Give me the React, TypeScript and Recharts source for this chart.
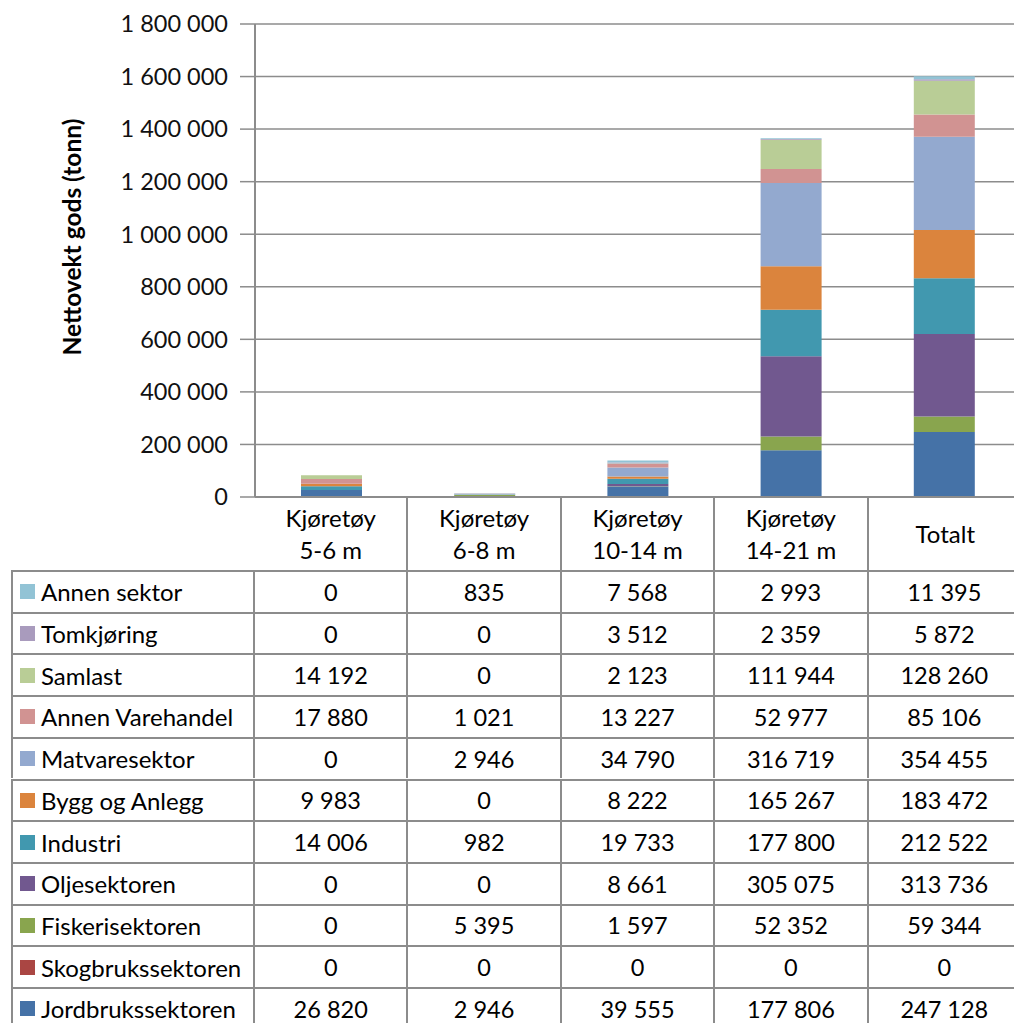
import { BarChart, Bar, XAxis, YAxis, CartesianGrid } from "recharts";

const categories = ["Kjøretøy\n5-6 m", "Kjøretøy\n6-8 m", "Kjøretøy\n10-14 m", "Kjøretøy\n14-21 m", "Totalt"];

// one array per sector, same order as categories
const jordbruk = [26820, 2946, 39555, 177806, 247128];
const skogbruk = [0, 0, 0, 0, 0];
const fiskeri = [0, 5395, 1597, 52352, 59344];
const olje = [0, 0, 8661, 305075, 313736];
const industri = [14006, 982, 19733, 177800, 212522];
const bygg = [9983, 0, 8222, 165267, 183472];
const matvare = [0, 2946, 34790, 316719, 354455];
const varehandel = [17880, 1021, 13227, 52977, 85106];
const samlast = [14192, 0, 2123, 111944, 128260];
const tomkjoring = [0, 0, 3512, 2359, 5872];
const annenSektor = [0, 835, 7568, 2993, 11395];

const yTicks = [0, 200000, 400000, 600000, 800000, 1000000, 1200000, 1400000, 1600000, 1800000];

// bottom of stack first
const series = [
  { key: "jordbruk", name: "Jordbrukssektoren", values: jordbruk, color: "#4572A7" },
  { key: "skogbruk", name: "Skogbrukssektoren", values: skogbruk, color: "#AA4643" },
  { key: "fiskeri", name: "Fiskerisektoren", values: fiskeri, color: "#89A54E" },
  { key: "olje", name: "Oljesektoren", values: olje, color: "#71588F" },
  { key: "industri", name: "Industri", values: industri, color: "#4198AF" },
  { key: "bygg", name: "Bygg og Anlegg", values: bygg, color: "#DB843D" },
  { key: "matvare", name: "Matvaresektor", values: matvare, color: "#93A9CF" },
  { key: "varehandel", name: "Annen Varehandel", values: varehandel, color: "#D19392" },
  { key: "samlast", name: "Samlast", values: samlast, color: "#B9CD96" },
  { key: "tomkjoring", name: "Tomkjøring", values: tomkjoring, color: "#A99BBD" },
  { key: "annen", name: "Annen sektor", values: annenSektor, color: "#92C3D5" },
];

const data = categories.map((name, i) => {
  const row: Record<string, string | number> = { name };
  series.forEach((s) => {
    row[s.key] = s.values[i];
  });
  return row;
});

const fmt = (v: number) => String(v).replace(/\B(?=(\d{3})+(?!\d))/g, " ");

const FONT = "Lato, 'Open Sans', sans-serif";
const LINE = "#8c8c8c";
const PLOT_LEFT = 255;
const PLOT_RIGHT = 1022;
const COL_W = (PLOT_RIGHT - PLOT_LEFT) / categories.length;
const TABLE_TOP = 570;
const ROW_H = 41.7;
const WORD_SIZE = 24;
const NUM_SIZE = 23.5;

export default function App() {
  const rows = [...series].reverse();

  return (
    <div
      style={{
        position: "absolute",
        left: 0,
        top: 0,
        width: 1014,
        height: 1023,
        overflow: "hidden",
        background: "#fff",
        fontFamily: FONT,
        color: "#000",
      }}
    >
      <div style={{ position: "absolute", left: 0, top: 0 }}>
        <BarChart
          width={PLOT_RIGHT}
          height={580}
          data={data}
          margin={{ top: 24, right: 1, left: 0, bottom: 10 }}
          barSize={61}
        >
          <CartesianGrid vertical={false} stroke={LINE} strokeWidth={1.5} />
          <XAxis dataKey="name" height={73} tick={false} tickLine={false} axisLine={{ stroke: LINE, strokeWidth: 2 }} />
          <YAxis
            width={PLOT_LEFT}
            domain={[0, 1800000]}
            ticks={yTicks}
            interval={0}
            tickFormatter={fmt}
            tickSize={15}
            tickMargin={12}
            tickLine={{ stroke: LINE, strokeWidth: 1.5 }}
            axisLine={{ stroke: LINE, strokeWidth: 2 }}
            tick={{ fontSize: NUM_SIZE, fill: "#111", fontFamily: FONT }}
            label={{
              content: () => (
                <text
                  x={71}
                  y={237}
                  transform="rotate(-90 71 237)"
                  textAnchor="middle"
                  dominantBaseline="central"
                  fontSize={24.5}
                  fontWeight="bold"
                  fontFamily={FONT}
                  fill="#000"
                >
                  Nettovekt gods (tonn)
                </text>
              ),
            }}
          />
          {series.map((s) => (
            <Bar key={s.key} dataKey={s.key} name={s.name} stackId="a" fill={s.color} isAnimationActive={false} />
          ))}
        </BarChart>
      </div>

      {/* category header row */}
      {categories.map((c, i) => (
        <div
          key={c}
          style={{
            position: "absolute",
            left: PLOT_LEFT + i * COL_W,
            top: 497,
            width: COL_W,
            height: TABLE_TOP - 497,
            borderRight: i < categories.length - 1 ? `2px solid ${LINE}` : "none",
            boxSizing: "border-box",
            display: "flex",
            flexDirection: "column",
            justifyContent: "center",
            alignItems: "center",
            fontSize: WORD_SIZE,
            lineHeight: "32px",
          }}
        >
          {c.split("\n").map((l) => (
            <div key={l}>{l}</div>
          ))}
        </div>
      ))}

      {/* data table */}
      {rows.map((s, r) => (
        <div key={s.key}>
          <div
            style={{
              position: "absolute",
              left: 11,
              top: TABLE_TOP + r * ROW_H,
              width: PLOT_LEFT - 11,
              height: ROW_H,
              borderTop: `2px solid ${LINE}`,
              borderLeft: `2px solid ${LINE}`,
              borderRight: `2px solid ${LINE}`,
              boxSizing: "border-box",
              display: "flex",
              alignItems: "center",
              fontSize: WORD_SIZE,
              whiteSpace: "nowrap",
            }}
          >
            <span
              style={{
                display: "inline-block",
                flex: "none",
                width: 15,
                height: 15,
                background: s.color,
                marginLeft: 7,
                marginRight: 6,
              }}
            />
            {s.name}
          </div>
          {s.values.map((v, i) => (
            <div
              key={i}
              style={{
                position: "absolute",
                left: PLOT_LEFT + i * COL_W,
                top: TABLE_TOP + r * ROW_H,
                width: COL_W,
                height: ROW_H,
                borderTop: `2px solid ${LINE}`,
                borderRight: `2px solid ${LINE}`,
                boxSizing: "border-box",
                display: "flex",
                alignItems: "center",
                justifyContent: "center",
                fontSize: NUM_SIZE,
              }}
            >
              {fmt(v)}
            </div>
          ))}
        </div>
      ))}
    </div>
  );
}
